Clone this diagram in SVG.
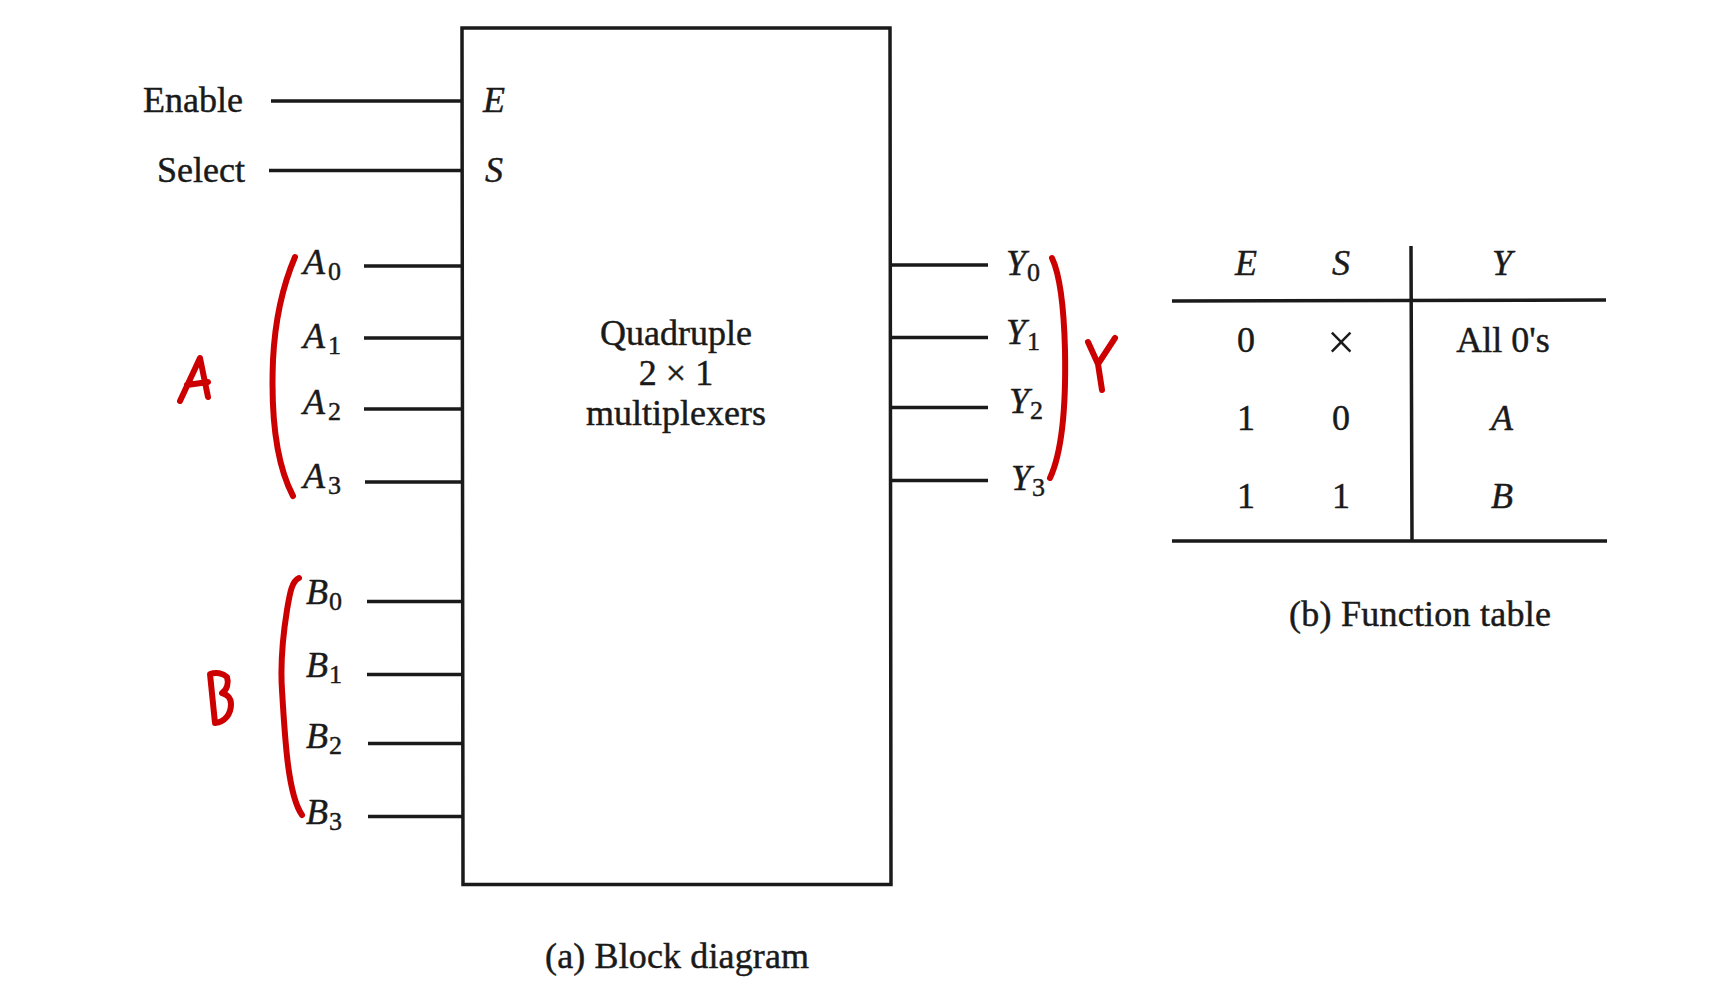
<svg xmlns="http://www.w3.org/2000/svg" width="1724" height="999" viewBox="0 0 1724 999">
<style>
text{font-family:"Liberation Serif","Times New Roman",serif;font-size:36px;fill:#1a1a1a;stroke:#1a1a1a;stroke-width:.45}
.i{font-style:italic}
.c{text-anchor:middle}
.sub{font-size:26px;font-style:normal}
.x{font-size:50px;stroke-width:0}
.w{fill:none;stroke:#1a1a1a;stroke-width:3.5}
.r{fill:none;stroke:#cc0000;stroke-width:6;stroke-linecap:round;stroke-linejoin:round}
</style>
<rect width="1724" height="999" fill="#fff"/>
<g id="connectors">
<path class="w" d="M271 101H462M269 170.500H462M364 266H462M364 338H462M364 409H462M365 482H462M367 601.500H463M367 674.500H463M368 743.500H463M368 816.500H463"/>
<path class="w" d="M890 265H988M890 337.500H988M890 407.500H988M890 480.500H988"/>
</g>
<g id="mux">
<path class="w" d="M462 28L890 28L891 884.500L463 884.500Z"/>
<text class="c" x="676" y="345">Quadruple</text>
<text class="c" x="676" y="385">2 × 1</text>
<text class="c" x="676" y="425">multiplexers</text>
<text class="i" x="483" y="112">E</text>
<text class="i" x="485" y="182">S</text>
</g>
<g id="inputs-control">
<text x="143" y="112">Enable</text>
<text x="157" y="182">Select</text>
</g>
<g id="inputs-a">
<text class="i" x="303" y="274">A<tspan class="sub" dx="3" dy="6">0</tspan></text>
<text class="i" x="303" y="348">A<tspan class="sub" dx="3" dy="6">1</tspan></text>
<text class="i" x="303" y="414">A<tspan class="sub" dx="3" dy="6">2</tspan></text>
<text class="i" x="303" y="488">A<tspan class="sub" dx="3" dy="6">3</tspan></text>
</g>
<g id="inputs-b">
<text class="i" x="306" y="604">B<tspan class="sub" dx="1" dy="6">0</tspan></text>
<text class="i" x="306" y="677">B<tspan class="sub" dx="1" dy="6">1</tspan></text>
<text class="i" x="306" y="748">B<tspan class="sub" dx="1" dy="6">2</tspan></text>
<text class="i" x="306" y="824">B<tspan class="sub" dx="1" dy="6">3</tspan></text>
</g>
<g id="outputs-y">
<text class="i" x="1006" y="275">Y<tspan class="sub" dx="1" dy="6">0</tspan></text>
<text class="i" x="1006" y="344">Y<tspan class="sub" dx="1" dy="6">1</tspan></text>
<text class="i" x="1009" y="413">Y<tspan class="sub" dx="1" dy="6">2</tspan></text>
<text class="i" x="1011" y="490">Y<tspan class="sub" dx="1" dy="6">3</tspan></text>
</g>
<g id="annotations">
<path class="r" d="M295 257C283 285 275 320 273 360C271 410 274 460 293 496"/>
<path class="r" d="M180 401L200 358L208 397M187 385L208 382"/>
<path class="r" d="M299 578C292 581 290 592 287 610C283 635 280 660 282 690C285 740 288 795 302 815"/>
<path class="r" d="M210 674L215 723C225 722 231 714 231 704C231 697 226 694 222 693C227 690 229 683 227 677C223 673 216 672 210 674Z"/>
<path class="r" d="M1052 258C1060 275 1064 310 1065 350C1066 400 1063 450 1050 478"/>
<path class="r" d="M1088 342L1098 364L1115 338M1098 364L1102 390"/>
</g>
<g id="function-table">
<path class="w" d="M1172 301L1606 300M1172 541H1607M1411 246L1412 541"/>
<text class="i c" x="1246" y="275">E</text>
<text class="i c" x="1341" y="275">S</text>
<text class="i c" x="1502" y="275">Y</text>
<text class="c" x="1246" y="352">0</text>
<text class="c x" x="1341" y="359">×</text>
<text class="c" x="1503" y="352">All 0's</text>
<text class="c" x="1246" y="430">1</text>
<text class="c" x="1341" y="430">0</text>
<text class="i c" x="1502" y="430">A</text>
<text class="c" x="1246" y="508">1</text>
<text class="c" x="1341" y="508">1</text>
<text class="i c" x="1502" y="508">B</text>
</g>
<text class="c" x="1420" y="626" textLength="262" lengthAdjust="spacing">(b) Function table</text>
<text class="c" x="677" y="968" textLength="264" lengthAdjust="spacing">(a) Block diagram</text>
</svg>
